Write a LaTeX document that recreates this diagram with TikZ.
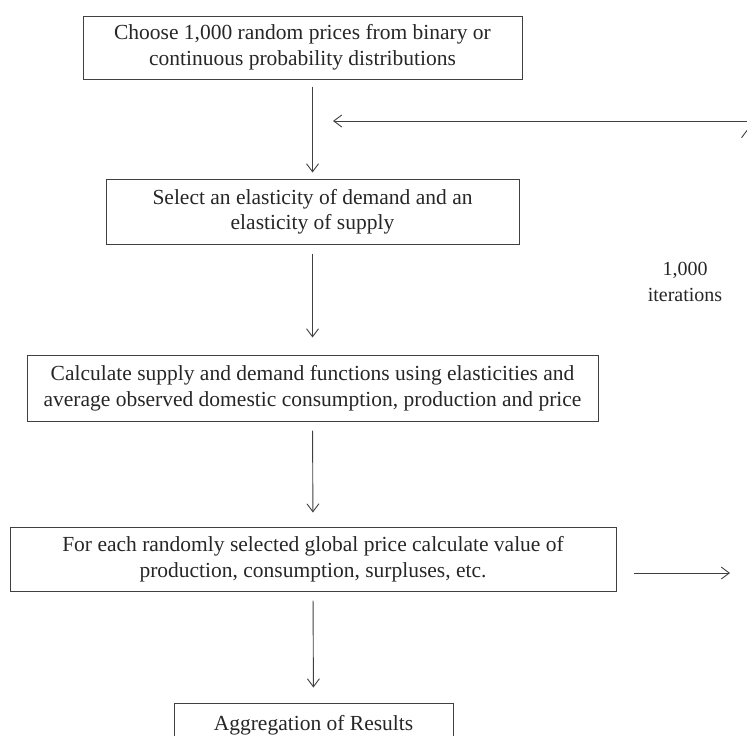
\documentclass[tikz,border=0pt]{standalone}
\usepackage{fontspec}
\setmainfont{Liberation Serif}
\usetikzlibrary{arrows.meta}

\begin{document}
\begin{tikzpicture}[x=1pt, y=-1pt,
  box/.style={draw=black!75, line width=1pt, align=center, inner sep=0pt,
              font=\fontsize{21.5}{25.5}\selectfont, text=black!85},
  arr/.style={-{Straight Barb[length=8pt, width=12pt]}, line width=0.9pt, black!75},
  lbl/.style={align=center, font=\fontsize{20}{26}\selectfont, text=black!85}
]
\useasboundingbox (0,0) rectangle (747,736);
\clip (0,0) rectangle (747,736);
% steps of the simulation
\node[box, minimum width=439pt, minimum height=63pt] (choose) at (302.5,47.5)
     {Choose 1,000 random prices from binary or\\continuous probability distributions};
\node[box, minimum width=413pt, minimum height=65pt] (select) at (312.5,211.5)
     {Select an elasticity of demand and an\\elasticity of supply};
\node[box, minimum width=571pt, minimum height=66pt] (calc) at (312.5,388)
     {Calculate supply and demand functions using elasticities and\\average observed domestic consumption, production and price};
\node[box, minimum width=606pt, minimum height=64pt] (each) at (313,559)
     {For each randomly selected global price calculate value of\\production, consumption, surpluses, etc.};
\node[box, minimum width=279pt, minimum height=44pt] (aggr) at (313.5,725)
     {Aggregation of Results};
\node[lbl] (iter) at (685,282) {1,000\\iterations};
% loop back
\coordinate (outR) at (730,573);
\coordinate (loopB) at (747.5,578);
\coordinate (loopT) at (747.5,129);
\coordinate (backR) at (749,121);
\coordinate (backL) at (333,121);
% connectors
\draw[arr, shorten <=7pt, shorten >=6pt] (select.north |- choose.south) -- (select.north);
\draw[arr, shorten <=9pt, shorten >=17pt] (select.south) -- (calc.north);
\draw[arr, shorten <=9pt, shorten >=14pt] (calc.south) -- (each.north);
\draw[arr, shorten <=9pt, shorten >=15pt] (each.south) -- (aggr.north);
\draw[arr, shorten <=17pt] (each.east |- outR) -- (outR);
\draw[arr] (loopB) -- (loopT);
\draw[arr] (backR) -- (backL);
\end{tikzpicture}
\end{document}
